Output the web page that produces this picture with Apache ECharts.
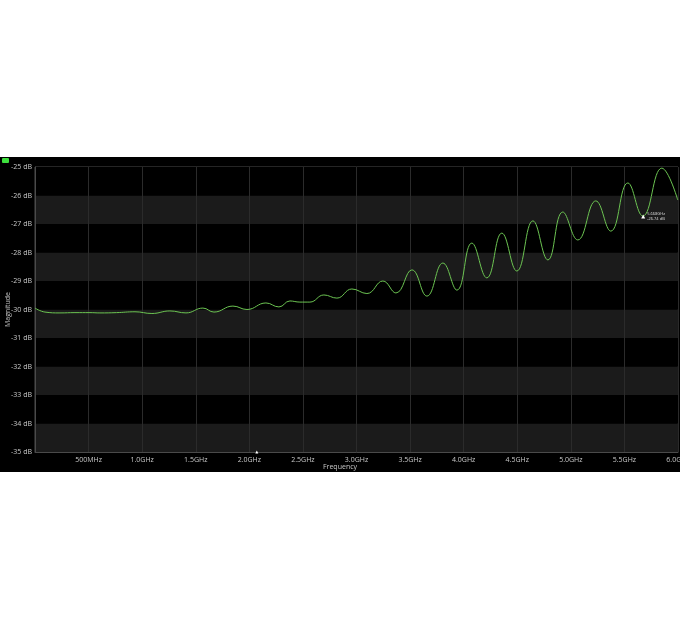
<!DOCTYPE html>
<html><head><meta charset="utf-8">
<script src="https://cdn.jsdelivr.net/npm/echarts@6/dist/echarts.min.js"></script>
<style>
html,body{margin:0;padding:0;background:#fff;width:680px;height:630px;overflow:hidden}
#panel{position:absolute;left:0;top:157px;width:680px;height:315px;background:#000}
#chart{width:680px;height:315px}
</style></head>
<body>
<div id="panel"><div id="chart"></div></div>
<script>
// Frequency (GHz) and magnitude (dB)
const freqGHz = [0.000,0.093,0.233,0.373,0.513,0.606,0.760,0.933,1.091,1.259,1.409,1.567,1.670,1.847,1.978,2.155,2.276,2.379,2.472,2.565,2.696,2.817,2.957,3.097,3.246,3.368,3.517,3.657,3.806,3.937,4.076,4.216,4.356,4.496,4.646,4.786,4.925,5.065,5.233,5.373,5.532,5.672,5.849,5.998];
const magDb = [-29.95,-30.09,-30.12,-30.11,-30.11,-30.12,-30.11,-30.08,-30.14,-30.05,-30.12,-29.95,-30.09,-29.88,-30.00,-29.77,-29.91,-29.70,-29.74,-29.74,-29.49,-29.60,-29.28,-29.44,-29.00,-29.42,-28.61,-29.53,-28.37,-29.32,-27.67,-28.89,-27.32,-28.65,-26.89,-28.26,-26.58,-27.56,-26.19,-27.25,-25.56,-26.72,-25.04,-26.16];
const xTickLabels = {"0.5":"500MHz","1":"1.0GHz","1.5":"1.5GHz","2":"2.0GHz","2.5":"2.5GHz","3":"3.0GHz","3.5":"3.5GHz","4":"4.0GHz","4.5":"4.5GHz","5":"5.0GHz","5.5":"5.5GHz","6":"6.0GHz"};
const markerA = [5.675, -26.74];
const markerALabel = ["5.668GHz","-26.74 dB"];
const markerB = [2.07, -35];
const xName = "Frequency";
const yName = "Magnitude";

const data = freqGHz.map((f,i)=>[f, magDb[i]]);
const font = "'Open Sans', 'Noto Sans', sans-serif";
const chart = echarts.init(document.getElementById('chart'));
chart.setOption({
  backgroundColor: '#000',
  animation: false,
  grid: {left: 35, right: 2, top: 10, bottom: 20, containLabel: false, outerBoundsMode: 'none',
    show: true, borderColor: '#4a4a4a', borderWidth: 1, backgroundColor: 'transparent'},
  xAxis: {
    type: 'value', min: 0, max: 6, interval: 0.5,
    axisLine: {show: true, lineStyle: {color: '#4a4a4a'}},
    axisTick: {show: false},
    splitLine: {show: true, lineStyle: {color: '#2b2b2b', width: 1}},
    axisLabel: {color: '#c8c8c8', fontSize: 7, fontFamily: font, margin: 4, hideOverlap: false,
      formatter: v => xTickLabels[String(+v.toFixed(1))] || ''}
  },
  yAxis: {
    type: 'value', min: -35, max: -25, interval: 1,
    name: yName, nameLocation: 'middle', nameGap: 24, nameRotate: 90, nameMoveOverlap: false,
    nameTextStyle: {color: '#c8c8c8', fontSize: 7, fontFamily: font},
    axisLine: {show: true, lineStyle: {color: '#4a4a4a'}},
    axisTick: {show: false},
    splitLine: {show: false},
    splitArea: {show: true, areaStyle: {color: ['#1b1b1b', '#000000']}},
    axisLabel: {color: '#c8c8c8', fontSize: 7, fontFamily: font, margin: 3,
      formatter: v => v + ' dB'}
  },
  series: [{
    type: 'line', data: data, smooth: 0.45, showSymbol: false,
    lineStyle: {color: '#6cc452', width: 1},
    markPoint: {
      symbol: 'triangle', symbolSize: 4, silent: true,
      data: [
        {coord: markerA, itemStyle: {color: '#ffffff'},
          label: {show: true, position: 'right', distance: 2, color: '#dddddd', fontSize: 4, lineHeight: 5, fontFamily: font,
            formatter: markerALabel.join('\n')}},
        {coord: markerB, symbolSize: 3, itemStyle: {color: '#ffffff'}, label: {show: false}}
      ]
    }
  }],
  graphic: [
    {type: 'rect', left: 2, top: 1, shape: {width: 7, height: 5, r: 1}, style: {fill: '#3ee03e'}},
    {type: 'text', x: 340, y: 310, style: {text: xName, fill: '#c8c8c8', fontSize: 7, fontFamily: font, align: 'center', verticalAlign: 'middle'}}
  ]
});
</script>
</body></html>
